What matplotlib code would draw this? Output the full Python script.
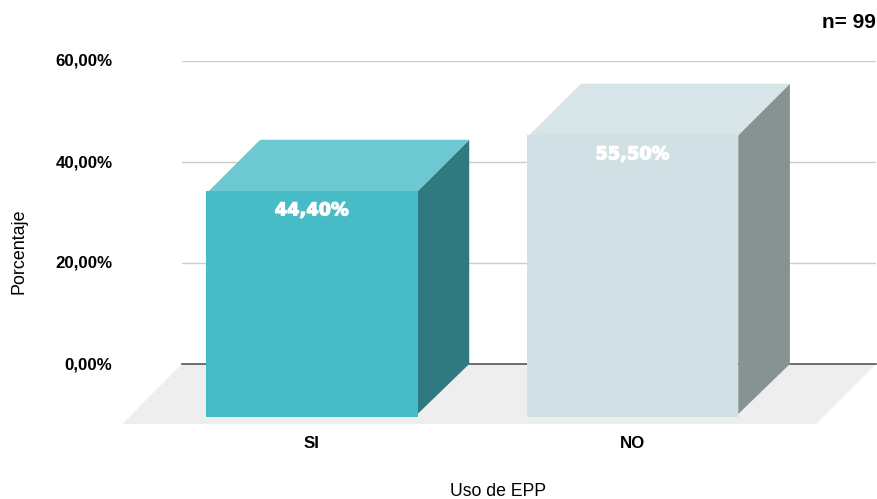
import matplotlib
matplotlib.use('Agg')
import matplotlib.pyplot as plt
import matplotlib.patheffects as pe
from matplotlib.patches import Polygon
from matplotlib.transforms import ScaledTranslation

categories = ['SI', 'NO']
values = [44.40, 55.50]
y_ticks = [0, 20, 40, 60]
y_tick_labels = ['0,00%', '20,00%', '40,00%', '60,00%']

front_colors = ['#47BCC6', '#D1E0E5']
top_colors = ['#6CC9D1', '#D7E5E9']
side_colors = ['#2E7A80', '#889292']

# box geometry in data units
bar_width = 0.66
depth_x = 0.161
depth_y = 10.2
front_drop = 10.55
side_drop = 9.9
top_inset = 0.008
floor_x = 0.187
floor_y = 11.9

plt.rcParams['font.family'] = ['Liberation Sans', 'DejaVu Sans']

W, H = 877, 499
fig = plt.figure(figsize=(W / 100, H / 100), dpi=100)
ax = fig.add_axes([182 / W, (H - 364) / H, 694 / W, 303 / H])
ax.set_xlim(-0.4047, 1.7595)
ax.set_ylim(0, 60)

for spine in ax.spines.values():
    spine.set_visible(False)

# grid and base line
for t in y_ticks:
    if t == 0:
        ax.axhline(t, color='#555555', lw=1.2, zorder=2, clip_on=False)
    else:
        ax.axhline(t, color='#CCCCCC', lw=1.0, zorder=1)

# floor under the boxes
x0, x1 = ax.get_xlim()
floor = Polygon([(x0, 0), (x1, 0), (x1 - floor_x, -floor_y), (x0 - floor_x, -floor_y)],
                closed=True, facecolor='#EEEEEE', edgecolor='none', clip_on=False, zorder=1)
ax.add_patch(floor)

# 3d boxes: the back edge sits on the value, the front face is shifted down-left
for i, v in enumerate(values):
    left = i - bar_width / 2
    right = i + bar_width / 2
    front = Polygon([(left, v - depth_y), (right, v - depth_y), (right, -front_drop), (left, -front_drop)],
                    closed=True, facecolor=front_colors[i], edgecolor='none', clip_on=False, zorder=4)
    top = Polygon([(left + top_inset, v - depth_y), (right, v - depth_y),
                   (right + depth_x, v), (left + depth_x + top_inset, v)],
                  closed=True, facecolor=top_colors[i], edgecolor='none', clip_on=False, zorder=3)
    side = Polygon([(right, v - depth_y), (right + depth_x, v), (right + depth_x, 0), (right, -side_drop)],
                   closed=True, facecolor=side_colors[i], edgecolor='none', clip_on=False, zorder=3)
    ax.add_patch(side)
    ax.add_patch(top)
    ax.add_patch(front)
    label = ax.annotate(f'{v:.2f}%'.replace('.', ','), (i, v - depth_y), xytext=(0, -13.7),
                        textcoords='offset points', ha='center', va='center', color='white',
                        fontsize=12.8, fontweight='bold', family='DejaVu Sans', zorder=5)
    # heavier look for the value labels
    label.set_path_effects([pe.withStroke(linewidth=0.9, foreground='white')])

ax.set_xticks(range(len(categories)))
ax.set_xticklabels(categories, fontsize=12.2, fontweight='bold')
ax.set_yticks(y_ticks)
ax.set_yticklabels(y_tick_labels, fontsize=12.2, fontweight='bold', va='center_baseline')
ax.tick_params(axis='x', length=0, pad=52)
ax.tick_params(axis='y', length=0, pad=50)

# nudge the y tick labels up a little
for lab in ax.get_yticklabels():
    lab.set_transform(lab.get_transform() + ScaledTranslation(0, 1 / 100, fig.dpi_scale_trans))

ax.set_xlabel('Uso de EPP', fontsize=12.7)
ax.xaxis.set_label_coords((498 - 182) / 694, (364 - 491) / 303)
ax.xaxis.label.set_va('center')
ax.set_ylabel('Porcentaje', fontsize=12.9)
ax.yaxis.set_label_coords((19 - 182) / 694, (364 - 251) / 303)
ax.yaxis.label.set_va('center')

fig.text(876 / W, (H - 22) / H, 'n= 99', ha='right', va='center', fontsize=15, fontweight='bold')

fig.savefig('out.png', dpi=100)
